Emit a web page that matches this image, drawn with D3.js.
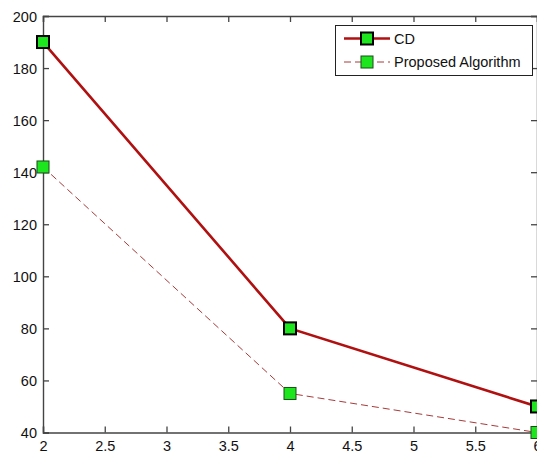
<!DOCTYPE html>
<html><head><meta charset="utf-8">
<script src="https://cdn.jsdelivr.net/npm/d3@7"></script>
<style>html,body{margin:0;padding:0;background:#fff;overflow:hidden}</style>
</head><body>
<script>
const xValues = [2, 4, 6];
const cdValues = [190, 80, 50];
const proposedValues = [142, 55, 40];
const seriesNames = ["CD", "Proposed Algorithm"];
const xTicks = [2, 2.5, 3, 3.5, 4, 4.5, 5, 5.5, 6];
const yTicks = [40, 60, 80, 100, 120, 140, 160, 180, 200];

(function () {
const W = 537, H = 454;
const svg = d3.select("body").append("svg").attr("width", W).attr("height", H)
  .style("font-family", "'Liberation Sans', Arial, sans-serif");

const x = d3.scaleLinear().domain([2, 6]).range([43, 537]);
const y = d3.scaleLinear().domain([40, 200]).range([432.5, 16]);
const axisColor = "#444";
const fs = 14.5;

const g = svg.append("g");
const axBottom = g.append("g").attr("transform", `translate(0,${y(40)})`)
  .call(d3.axisBottom(x).tickValues(xTicks).tickSize(-6).tickPadding(8).tickFormat(d3.format("")));
const axTop = g.append("g").attr("transform", `translate(0,${y(200)})`)
  .call(d3.axisTop(x).tickValues(xTicks).tickSize(-6).tickFormat(""));
const axLeft = g.append("g").attr("transform", `translate(${x(2)},0)`)
  .call(d3.axisLeft(y).tickValues(yTicks).tickSize(-6).tickPadding(6));
const axRight = g.append("g").attr("transform", `translate(${x(6)},0)`)
  .call(d3.axisRight(y).tickValues(yTicks).tickSize(-6).tickFormat(""));
[axBottom, axTop, axLeft, axRight].forEach(a => {
  a.selectAll("path").attr("stroke", axisColor).attr("stroke-width", 1.4);
  a.selectAll("line").attr("stroke", axisColor).attr("stroke-width", 1.3);
  a.selectAll("text").attr("fill", "#111").style("font-size", fs + "px")
    .style("font-family", "'Liberation Sans', Arial, sans-serif");
});
axLeft.selectAll("text").attr("dy", "0.36em");
axBottom.selectAll("text").attr("y", 8).attr("dy", "0.71em");

const line = d3.line().x(d => x(d[0])).y(d => y(d[1]));
const cd = xValues.map((v, i) => [v, cdValues[i]]);
const pr = xValues.map((v, i) => [v, proposedValues[i]]);

const markerFill = "#1ee61e";
const cdColor = "#b01010";
const prColor = "#a83a3a";
const ms = 12;

svg.append("path").datum(pr).attr("d", line).attr("fill", "none")
  .attr("stroke", prColor).attr("stroke-width", 1).attr("stroke-dasharray", "7,4");
svg.append("path").datum(cd).attr("d", line).attr("fill", "none")
  .attr("stroke", cdColor).attr("stroke-width", 2.6);

svg.selectAll(".mpr").data(pr).enter().append("rect")
  .attr("x", d => x(d[0]) - ms / 2).attr("y", d => y(d[1]) - ms / 2)
  .attr("width", ms).attr("height", ms)
  .attr("fill", markerFill).attr("stroke", "#1a4a1a").attr("stroke-width", 1);
svg.selectAll(".mcd").data(cd).enter().append("rect")
  .attr("x", d => x(d[0]) - ms / 2).attr("y", d => y(d[1]) - ms / 2)
  .attr("width", ms).attr("height", ms)
  .attr("fill", markerFill).attr("stroke", "#000").attr("stroke-width", 2);

const lg = svg.append("g");
lg.append("rect").attr("x", 335.5).attr("y", 25.5).attr("width", 197).attr("height", 50)
  .attr("fill", "#fff").attr("stroke", "#222").attr("stroke-width", 1);
const rows = [
  {name: seriesNames[0], y: 38.5, color: cdColor, w: 2.6, dash: null, stroke: "#000", sw: 2},
  {name: seriesNames[1], y: 62, color: prColor, w: 1, dash: "7,4", stroke: "#1a4a1a", sw: 1}
];
rows.forEach(r => {
  lg.append("line").attr("x1", 344).attr("x2", 390).attr("y1", r.y).attr("y2", r.y)
    .attr("stroke", r.color).attr("stroke-width", r.w).attr("stroke-dasharray", r.dash);
  lg.append("rect").attr("x", 367 - ms / 2).attr("y", r.y - ms / 2).attr("width", ms).attr("height", ms)
    .attr("fill", markerFill).attr("stroke", r.stroke).attr("stroke-width", r.sw);
  lg.append("text").attr("x", 394).attr("y", r.y).attr("dy", "0.36em")
    .style("font-size", "14.5px").attr("fill", "#111").text(r.name);
});
})();
</script>
</body></html>
